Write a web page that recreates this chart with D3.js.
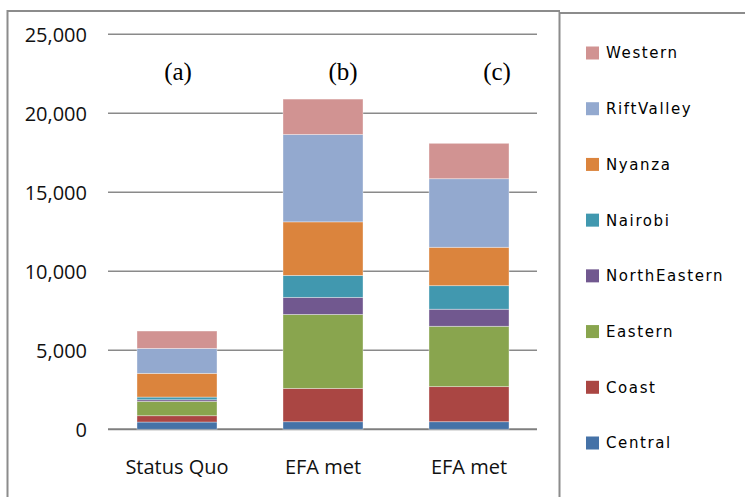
<!DOCTYPE html>
<html>
<head>
<meta charset="utf-8">
<script src="https://cdn.jsdelivr.net/npm/d3@7"></script>
<style>
  body { margin: 0; background: #fff; }
  svg { display: block; }
</style>
</head>
<body>
<svg class="chart" width="745" height="497"></svg>
<script>
// scenarios on the x axis, annotation above each bar
const scenarios = ['Status Quo', 'EFA met', 'EFA met '];
const scenarioLabels = ['Status Quo', 'EFA met', 'EFA met'];
const panelTags = ['(a)', '(b)', '(c)'];

// provinces, bottom to top of each stack
const provinces = ['Central', 'Coast', 'Eastern', 'NorthEastern', 'Nairobi', 'Nyanza', 'RiftValley', 'Western'];
const provinceColors = ['#4572A7', '#AA4643', '#89A54E', '#71588F', '#4198AF', '#DB843D', '#93A9CF', '#D19392'];

// values per province, one per scenario
const central      = [460, 480, 480];
const coast        = [400, 2110, 2220];
const eastern      = [910, 4680, 3820];
const northEastern = [100, 1080, 1080];
const nairobi      = [170, 1390, 1490];
const nyanza       = [1500, 3390, 2430];
const riftValley   = [1580, 5530, 4340];
const western      = [1100, 2240, 2240];

const yTicks = [0, 5000, 10000, 15000, 20000, 25000];

const seriesValues = [central, coast, eastern, northEastern, nairobi, nyanza, riftValley, western];

const rows = scenarios.map((s, i) => {
    const row = { scenario: s };
    provinces.forEach((p, j) => { row[p] = seriesValues[j][i]; });
    return row;
});

const svg = d3.select('.chart');

const plot = { left: 108, right: 537, top: 34.3, bottom: 429.3 };

const x = d3.scaleBand()
    .domain(scenarios)
    .range([104, 542])
    .paddingInner(0.452)
    .paddingOuter(0.226);

const y = d3.scaleLinear()
    .domain([0, 25000])
    .range([plot.bottom, plot.top]);

const color = d3.scaleOrdinal().domain(provinces).range(provinceColors);

// outer frame of the chart and legend
svg.append('path')
    .attr('d', `M7.5,497 V11 H560`)
    .attr('fill', 'none')
    .attr('stroke', '#8c8c8c')
    .attr('stroke-width', 2);
svg.append('path')
    .attr('d', `M559.5,497 V13 H745`)
    .attr('fill', 'none')
    .attr('stroke', '#8c8c8c')
    .attr('stroke-width', 2);

// gridlines
svg.append('g')
    .selectAll('line')
    .data(yTicks)
    .join('line')
    .attr('x1', plot.left)
    .attr('x2', plot.right)
    .attr('y1', d => y(d))
    .attr('y2', d => y(d))
    .attr('stroke', d => d === 0 ? '#7f7f7f' : '#8a8a8a')
    .attr('stroke-width', d => d === 0 ? 2 : 1.4);

// y tick labels
svg.append('g')
    .selectAll('text')
    .data(yTicks)
    .join('text')
    .attr('x', 87)
    .attr('y', d => y(d))
    .attr('dy', '0.36em')
    .attr('text-anchor', 'end')
    .attr('font-family', '"Open Sans", sans-serif')
    .attr('font-size', 20)
    .attr('fill', '#111')
    .text(d3.format(','));

// stacked bars
const stacked = d3.stack().keys(provinces)(rows);

svg.append('g')
    .selectAll('g')
    .data(stacked)
    .join('g')
    .attr('fill', d => color(d.key))
    .selectAll('rect')
    .data(d => d)
    .join('rect')
    .attr('x', d => x(d.data.scenario))
    .attr('width', x.bandwidth())
    .attr('y', d => y(d[1]))
    .attr('height', d => y(d[0]) - y(d[1]))
    .attr('stroke', '#fff')
    .attr('stroke-opacity', 0.45)
    .attr('stroke-width', 0.8);

// category labels
svg.append('g')
    .selectAll('text')
    .data(scenarios)
    .join('text')
    .attr('x', d => x(d) + x.bandwidth() / 2)
    .attr('y', 474)
    .attr('text-anchor', 'middle')
    .attr('font-family', '"Open Sans", sans-serif')
    .attr('font-size', 20)
    .attr('fill', '#111')
    .text((d, i) => scenarioLabels[i]);

// panel tags (a) (b) (c)
const tagShift = [1, 20, 28];
svg.append('g')
    .selectAll('text')
    .data(scenarios)
    .join('text')
    .attr('x', (d, i) => x(d) + x.bandwidth() / 2 + tagShift[i])
    .attr('y', 80)
    .attr('text-anchor', 'middle')
    .attr('font-family', '"Liberation Serif", "Times New Roman", serif')
    .attr('font-size', 25)
    .attr('fill', '#000')
    .text((d, i) => panelTags[i]);

// legend, Western at top
const legendOrder = provinces.slice().reverse();
const ly = d3.scalePoint().domain(legendOrder).range([53, 443]);

const legend = svg.append('g')
    .selectAll('g')
    .data(legendOrder)
    .join('g')
    .attr('transform', d => `translate(586, ${ly(d)})`);

legend.append('rect')
    .attr('x', 0)
    .attr('y', -6.5)
    .attr('width', 13)
    .attr('height', 13)
    .attr('fill', d => color(d));

legend.append('text')
    .attr('x', 20)
    .attr('dy', '0.36em')
    .attr('font-family', '"DejaVu Sans", Verdana, sans-serif')
    .attr('font-size', 15)
    .attr('letter-spacing', 1.6)
    .attr('fill', '#000')
    .text(d => d);
</script>
</body>
</html>
